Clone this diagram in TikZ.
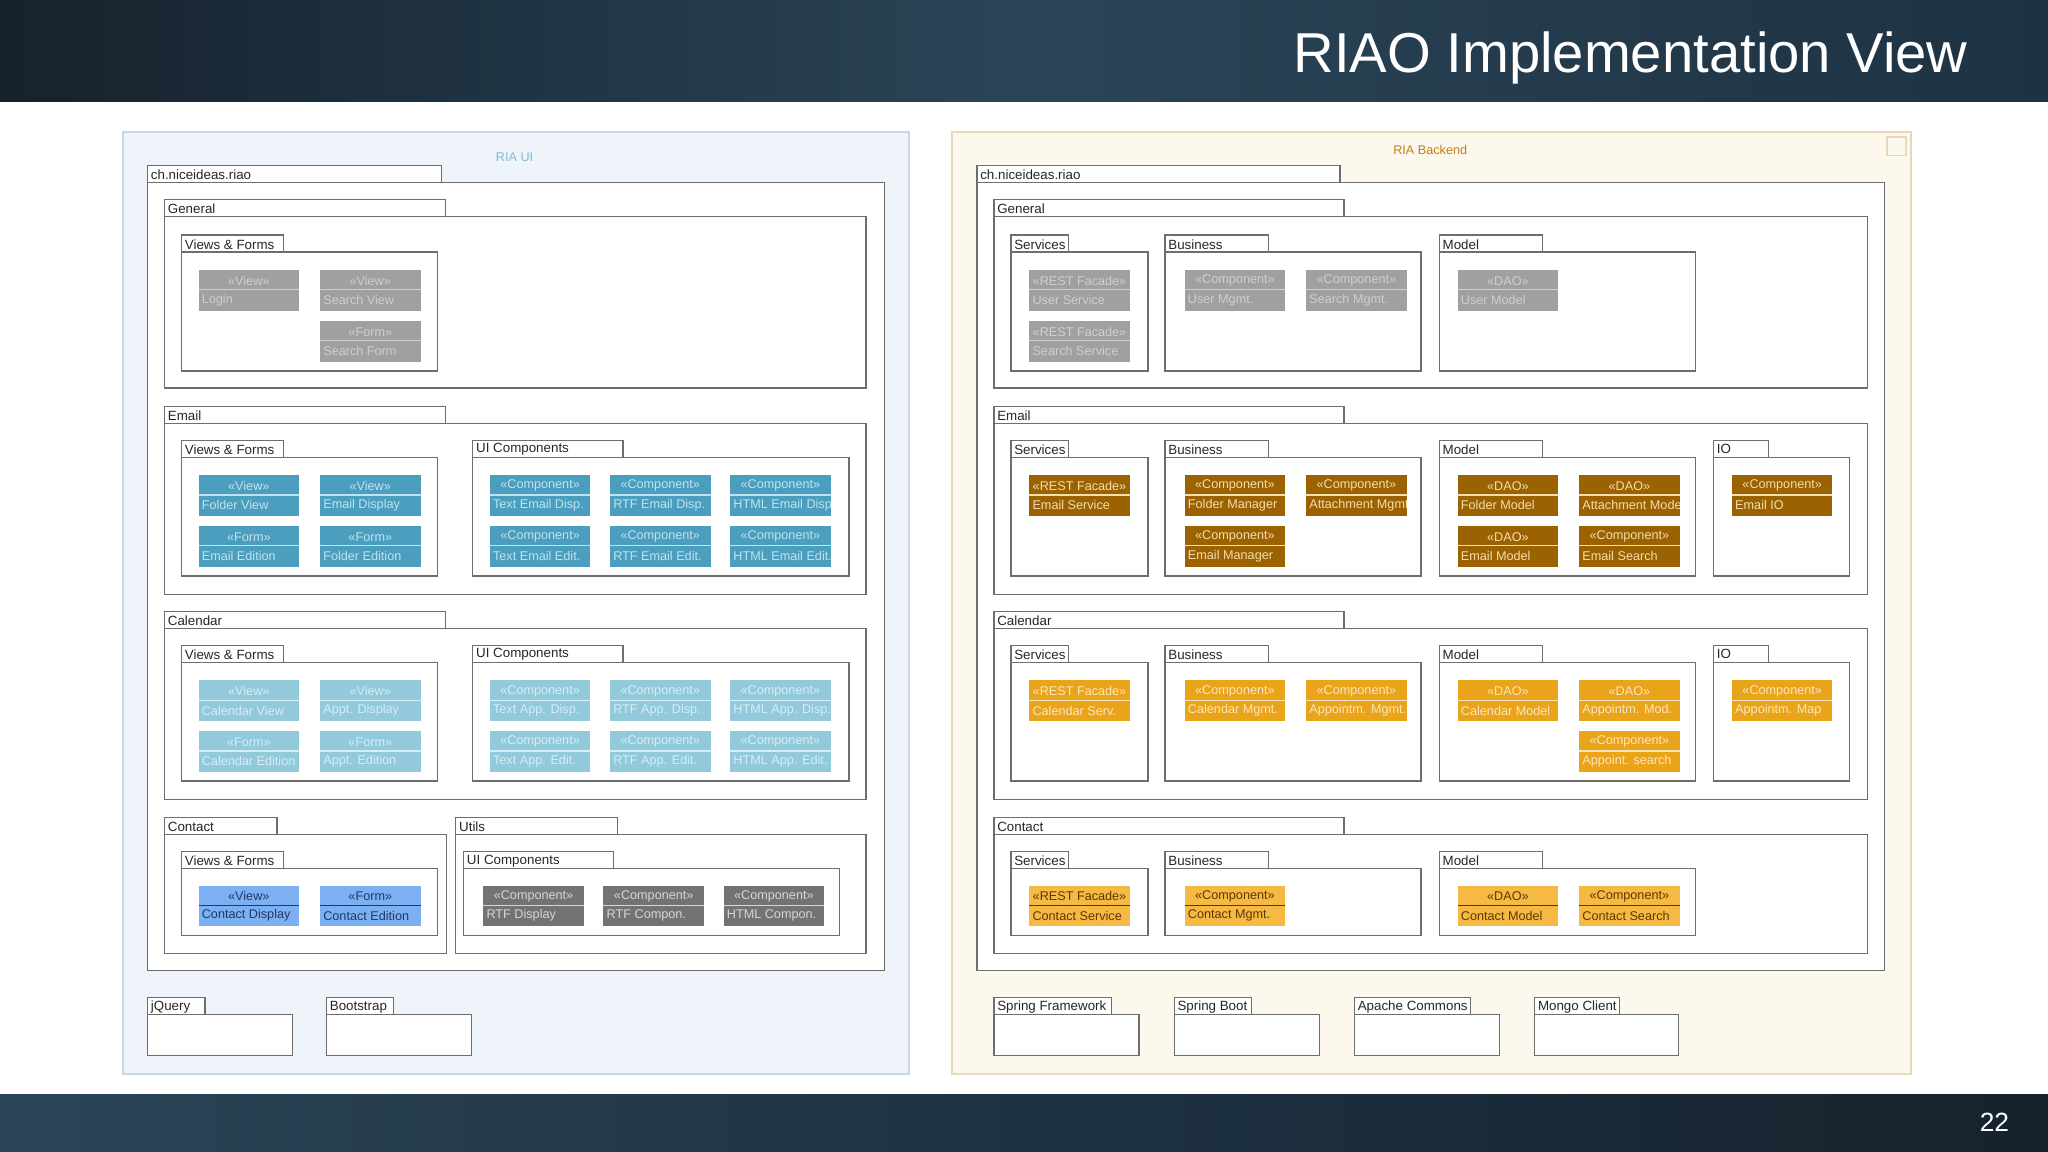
\documentclass[tikz,border=0pt]{standalone}
\usepackage{fontspec}
\setmainfont{Liberation Sans}
\definecolor{hdrA}{HTML}{16222D}
\definecolor{hdrB}{HTML}{2A4558}
\definecolor{hdrC}{HTML}{1E3242}
\definecolor{uibg}{HTML}{EEF4FA}
\definecolor{uibd}{HTML}{C6D6E6}
\definecolor{bebg}{HTML}{FDF8EE}
\definecolor{bebd}{HTML}{E6D8B8}
\definecolor{pkline}{HTML}{6E6E6E}
\definecolor{cgray}{HTML}{A0A0A0}
\definecolor{tgray}{HTML}{CFCFCF}
\definecolor{cteal}{HTML}{4B9EBE}
\definecolor{tteal}{HTML}{BFE3F0}
\definecolor{clteal}{HTML}{92C9DB}
\definecolor{tlteal}{HTML}{D4EEF6}
\definecolor{cblue}{HTML}{7DB0F2}
\definecolor{tblue}{HTML}{1E3A66}
\definecolor{cdgray}{HTML}{737373}
\definecolor{tdgray}{HTML}{D6D6D6}
\definecolor{cbrown}{HTML}{9A6200}
\definecolor{tbrown}{HTML}{F5DDAE}
\definecolor{corange}{HTML}{E9A41A}
\definecolor{torange}{HTML}{FBE6BE}
\definecolor{clorange}{HTML}{F6B944}
\definecolor{tlorange}{HTML}{5A3A00}
\tikzset{x=0.013061cm,y=-0.013061cm,
  pkgline/.style={draw=pkline,line width=0.35pt,fill=white},
  pkglabel/.style={anchor=west,inner sep=0pt,font=\fontsize{3.8}{4.5}\selectfont,text=black!85},
  stlabel/.style={inner sep=0pt,font=\fontsize{3.6}{4.5}\selectfont},
}
\newcommand\pk[6]{% x1 y1 x2 y2 tabwidth label
  \draw[pkgline] (#1,#2+13) rectangle (#3,#4);
  \draw[pkgline] (#1,#2) rectangle ++(#5,13);
  \node[pkglabel] at (#1+2,#2+7) {#6};}
\newcommand\cmp[6]{% x y fill textcolor stereo name
  \fill[#3] (#1,#2) rectangle ++(77,31);
  \draw[#4,line width=0.3pt] (#1,#2+15) -- ++(77,0);
  \node[stlabel,text=#4] at (#1+38.5,#2+8) {\guillemotleft#5\guillemotright};
  \begin{scope}
  \clip (#1,#2) rectangle ++(77,31);
  \node[stlabel,text=#4,anchor=west] at (#1+2,#2+23) {#6};
  \end{scope}}
\begin{document}
\begin{tikzpicture}
\useasboundingbox (0,0) rectangle (1568,882);
\fill[white] (0,0) rectangle (1568,882);
\shade[left color=hdrA,right color=hdrC,middle color=hdrB] (0,0) rectangle (1568,78);
\shade[left color=hdrB,right color=hdrA,middle color=hdrC] (0,838) rectangle (1568,882);
\node[anchor=east,text=white,font=\fontsize{16}{18}\selectfont,inner sep=0pt] (title) at (1507,44) {RIAO Implementation View};
\node[text=white,font=\fontsize{7.5}{9}\selectfont,inner sep=0pt] (pnum) at (1527,859) {22};
% panels
\draw[fill=uibg,draw=uibd,line width=0.6pt] (94,101) rectangle (696,822);
\node[stlabel,text=cteal!70] (uit) at (394,120) {RIA UI};
\draw[fill=bebg,draw=bebd,line width=0.6pt] (729,101) rectangle (1463,822);
\node[stlabel,text=corange!80!black] (bet) at (1095,115) {RIA Backend};
\draw[draw=bebd,line width=0.5pt] (1445,105) rectangle (1459,119);
% ---------- left ----------
\pk{113}{127}{677}{743}{225}{ch.niceideas.riao}
\pk{126}{153}{663}{297}{215}{General}
\pk{139}{180}{335}{284}{78}{Views \& Forms}
\cmp{152}{207}{cgray}{tgray}{View}{Login}
\cmp{245}{207}{cgray}{tgray}{View}{Search View}
\cmp{245}{246}{cgray}{tgray}{Form}{Search Form}
\pk{126}{311}{663}{455}{215}{Email}
\pk{139}{337}{335}{441}{78}{Views \& Forms}
\cmp{152}{364}{cteal}{tteal}{View}{Folder View}
\cmp{245}{364}{cteal}{tteal}{View}{Email Display}
\cmp{152}{403}{cteal}{tteal}{Form}{Email Edition}
\cmp{245}{403}{cteal}{tteal}{Form}{Folder Edition}
\pk{362}{337}{650}{441}{115}{UI Components}
\cmp{375}{364}{cteal}{tteal}{Component}{Text Email Disp.}
\cmp{467}{364}{cteal}{tteal}{Component}{RTF Email Disp.}
\cmp{559}{364}{cteal}{tteal}{Component}{HTML Email Disp.}
\cmp{375}{403}{cteal}{tteal}{Component}{Text Email Edit.}
\cmp{467}{403}{cteal}{tteal}{Component}{RTF Email Edit.}
\cmp{559}{403}{cteal}{tteal}{Component}{HTML Email Edit.}
\pk{126}{468}{663}{612}{215}{Calendar}
\pk{139}{494}{335}{598}{78}{Views \& Forms}
\cmp{152}{521}{clteal}{tlteal}{View}{Calendar View}
\cmp{245}{521}{clteal}{tlteal}{View}{Appt. Display}
\cmp{152}{560}{clteal}{tlteal}{Form}{Calendar Edition}
\cmp{245}{560}{clteal}{tlteal}{Form}{Appt. Edition}
\pk{362}{494}{650}{598}{115}{UI Components}
\cmp{375}{521}{clteal}{tlteal}{Component}{Text App. Disp.}
\cmp{467}{521}{clteal}{tlteal}{Component}{RTF App. Disp.}
\cmp{559}{521}{clteal}{tlteal}{Component}{HTML App. Disp.}
\cmp{375}{560}{clteal}{tlteal}{Component}{Text App. Edit.}
\cmp{467}{560}{clteal}{tlteal}{Component}{RTF App. Edit.}
\cmp{559}{560}{clteal}{tlteal}{Component}{HTML App. Edit.}
\pk{126}{626}{342}{730}{86}{Contact}
\pk{139}{652}{335}{716}{78}{Views \& Forms}
\cmp{152}{678}{cblue}{tblue}{View}{Contact Display}
\cmp{245}{678}{cblue}{tblue}{Form}{Contact Edition}
\pk{349}{626}{663}{730}{124}{Utils}
\pk{355}{652}{643}{716}{115}{UI Components}
\cmp{370}{678}{cdgray}{tdgray}{Component}{RTF Display}
\cmp{462}{678}{cdgray}{tdgray}{Component}{RTF Compon.}
\cmp{554}{678}{cdgray}{tdgray}{Component}{HTML Compon.}
\pk{113}{764}{224}{808}{44}{jQuery}
\pk{250}{764}{361}{808}{51}{Bootstrap}
% ---------- right ----------
\pk{748}{127}{1443}{743}{278}{ch.niceideas.riao}
\pk{761}{153}{1430}{297}{268}{General}
\pk{774}{180}{879}{284}{44}{Services}
\cmp{788}{207}{cgray}{tgray}{REST Facade}{User Service}
\cmp{788}{246}{cgray}{tgray}{REST Facade}{Search Service}
\pk{892}{180}{1088}{284}{79}{Business}
\cmp{907}{207}{cgray}{tgray}{Component}{User Mgmt.}
\cmp{1000}{207}{cgray}{tgray}{Component}{Search Mgmt.}
\pk{1102}{180}{1298}{284}{79}{Model}
\cmp{1116}{207}{cgray}{tgray}{DAO}{User Model}
\pk{761}{311}{1430}{455}{268}{Email}
\pk{774}{337}{879}{441}{44}{Services}
\cmp{788}{364}{cbrown}{tbrown}{REST Facade}{Email Service}
\pk{892}{337}{1088}{441}{79}{Business}
\cmp{907}{364}{cbrown}{tbrown}{Component}{Folder Manager}
\cmp{1000}{364}{cbrown}{tbrown}{Component}{Attachment Mgmt}
\cmp{907}{403}{cbrown}{tbrown}{Component}{Email Manager}
\pk{1102}{337}{1298}{441}{79}{Model}
\cmp{1116}{364}{cbrown}{tbrown}{DAO}{Folder Model}
\cmp{1209}{364}{cbrown}{tbrown}{DAO}{Attachment Model}
\cmp{1116}{403}{cbrown}{tbrown}{DAO}{Email Model}
\cmp{1209}{403}{cbrown}{tbrown}{Component}{Email Search}
\pk{1312}{337}{1416}{441}{42}{IO}
\cmp{1326}{364}{cbrown}{tbrown}{Component}{Email IO}
\pk{761}{468}{1430}{612}{268}{Calendar}
\pk{774}{494}{879}{598}{44}{Services}
\cmp{788}{521}{corange}{torange}{REST Facade}{Calendar Serv.}
\pk{892}{494}{1088}{598}{79}{Business}
\cmp{907}{521}{corange}{torange}{Component}{Calendar Mgmt.}
\cmp{1000}{521}{corange}{torange}{Component}{Appointm. Mgmt.}
\pk{1102}{494}{1298}{598}{79}{Model}
\cmp{1116}{521}{corange}{torange}{DAO}{Calendar Model}
\cmp{1209}{521}{corange}{torange}{DAO}{Appointm. Mod.}
\cmp{1209}{560}{corange}{torange}{Component}{Appoint. search}
\pk{1312}{494}{1416}{598}{42}{IO}
\cmp{1326}{521}{corange}{torange}{Component}{Appointm. Map}
\pk{761}{626}{1430}{730}{268}{Contact}
\pk{774}{652}{879}{716}{44}{Services}
\cmp{788}{678}{clorange}{tlorange}{REST Facade}{Contact Service}
\pk{892}{652}{1088}{716}{79}{Business}
\cmp{907}{678}{clorange}{tlorange}{Component}{Contact Mgmt.}
\pk{1102}{652}{1298}{716}{79}{Model}
\cmp{1116}{678}{clorange}{tlorange}{DAO}{Contact Model}
\cmp{1209}{678}{clorange}{tlorange}{Component}{Contact Search}
\pk{761}{764}{872}{808}{90}{Spring Framework}
\pk{899}{764}{1010}{808}{59}{Spring Boot}
\pk{1037}{764}{1148}{808}{89}{Apache Commons}
\pk{1175}{764}{1285}{808}{65}{Mongo Client}
\end{tikzpicture}
\end{document}
